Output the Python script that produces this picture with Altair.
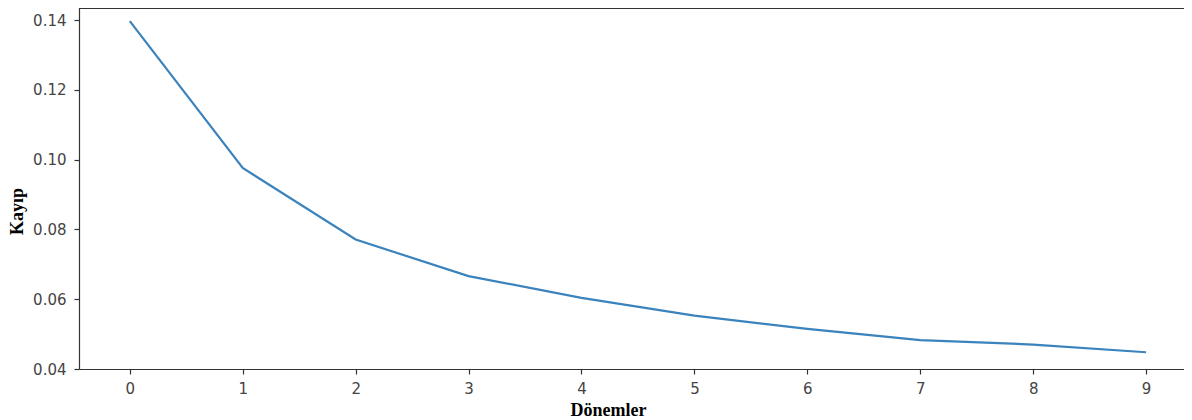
import altair as alt
import pandas as pd

epochs = [0, 1, 2, 3, 4, 5, 6, 7, 8, 9]
loss = [0.1397, 0.0976, 0.0771, 0.0666, 0.0604, 0.0553, 0.0515, 0.0483, 0.0470, 0.0448]
x_ticks = [0, 1, 2, 3, 4, 5, 6, 7, 8, 9]
y_ticks = [0.04, 0.06, 0.08, 0.10, 0.12, 0.14]

df = pd.DataFrame({"Dönemler": epochs, "Kayıp": loss})

W, H = 1105, 361
axis_common = dict(
    domainColor="#333333", tickColor="#333333", domainWidth=1.2, tickWidth=1.2,
    tickSize=5, labelFont="DejaVu Sans", labelFontSize=15, labelColor="#444444",
    titleFont="Liberation Serif", titleFontSize=18, titleFontWeight="bold",
    titleColor="#000000", grid=False,
)

line = alt.Chart(df).mark_line(color="#3a83bd", strokeWidth=2.2).encode(
    x=alt.X("Dönemler:Q",
            scale=alt.Scale(domain=[-0.45, 9.336], nice=False, zero=False),
            axis=alt.Axis(values=x_ticks, format="d", labelPadding=7,
                          titleX=529, titleY=46, titleBaseline="alphabetic",
                          titleAlign="center", **axis_common)),
    y=alt.Y("Kayıp:Q",
            scale=alt.Scale(domain=[0.04, 0.14344], nice=False, zero=False),
            axis=alt.Axis(values=y_ticks, format=".2f", labelPadding=8,
                          titleX=-57, titleY=203, titleAngle=-90,
                          titleBaseline="alphabetic", titleAlign="center",
                          **axis_common)),
)

top_border = alt.Chart(df).mark_rule(color="#333333", strokeWidth=1.2).encode(
    x=alt.value(0), x2=alt.value(W), y=alt.value(0)
)

chart = alt.layer(top_border, line).properties(
    width=W, height=H,
    autosize=alt.AutoSizeParams(type="none"),
    padding={"left": 71, "top": 0, "right": 0, "bottom": 50},
).configure_view(stroke=None)

chart.save("out.html", embed_options={"renderer": "svg", "actions": False})
